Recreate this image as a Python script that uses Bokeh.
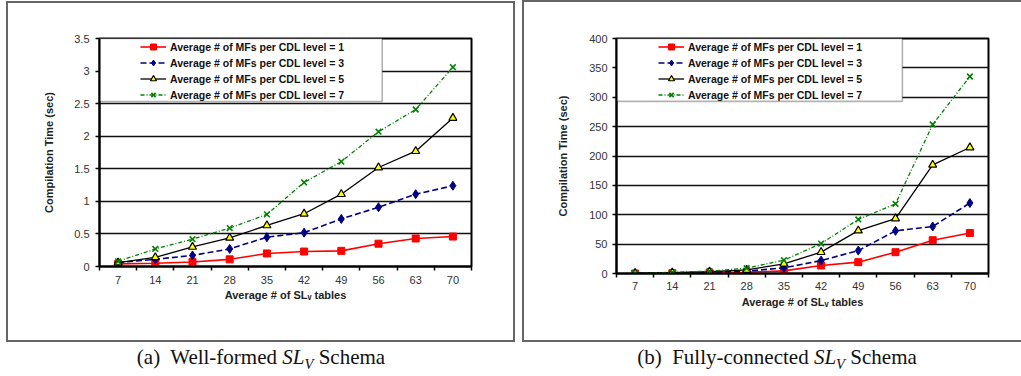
from bokeh.plotting import figure
from bokeh.models import Range1d, FixedTicker, NumeralTickFormatter, BoxAnnotation, Div
from bokeh.layouts import row, column
from bokeh.embed import file_html
from bokeh.resources import INLINE

# ---------------- data ----------------
sl_tables = [7, 14, 21, 28, 35, 42, 49, 56, 63, 70]
series_labels = [
    "Average # of MFs per CDL level = 1",
    "Average # of MFs per CDL level = 3",
    "Average # of MFs per CDL level = 5",
    "Average # of MFs per CDL level = 7",
]

# (a) Well-formed SL_V schema, compilation time (sec)
wf_mf1 = [0.04, 0.05, 0.07, 0.11, 0.20, 0.23, 0.24, 0.35, 0.43, 0.46]
wf_mf3 = [0.06, 0.11, 0.17, 0.27, 0.45, 0.52, 0.73, 0.91, 1.11, 1.24]
wf_mf5 = [0.06, 0.14, 0.30, 0.44, 0.63, 0.81, 1.11, 1.52, 1.77, 2.28]
wf_mf7 = [0.08, 0.27, 0.42, 0.59, 0.80, 1.29, 1.61, 2.07, 2.41, 3.06]

# (b) Fully-connected SL_V schema, compilation time (sec)
fc_mf1 = [0.0, 0.5, 1.0, 2.0, 4.5, 13.6, 19.3, 36.3, 56.7, 69.0]
fc_mf3 = [0.3, 1.0, 2.0, 4.0, 9.6, 22.0, 39.0, 72.6, 80.0, 120.0]
fc_mf5 = [0.5, 1.5, 3.0, 6.0, 16.5, 36.3, 73.0, 93.6, 185.0, 214.5]
fc_mf7 = [0.5, 2.0, 4.0, 9.0, 22.7, 51.0, 92.0, 118.6, 253.6, 335.3]

y_axis_title = "Compilation Time (sec)"
x_axis_title = "Average # of SL\u1d65 tables"
caption_a = '(a)&nbsp; Well-formed <i>SL<sub style="font-size:0.7em">V</sub></i> Schema'
caption_b = '(b)&nbsp; Fully-connected <i>SL<sub style="font-size:0.7em">V</sub></i> Schema'

FONT = "Liberation Sans"


def make_panel(series, y_max, y_step, y_format, width, height, margin, borders,
               legend_loc, legend_box, label_offsets):
    half = (sl_tables[1] - sl_tables[0]) / 2
    x0, x1 = sl_tables[0] - half, sl_tables[-1] + half
    p = figure(width=width, height=height, output_backend="svg",
               toolbar_location=None, margin=margin,
               x_range=Range1d(x0, x1), y_range=Range1d(0, y_max),
               min_border_left=borders[0], min_border_right=borders[1],
               min_border_top=borders[2], min_border_bottom=borders[3])
    p.background_fill_color = "white"
    p.border_fill_color = "white"
    p.outline_line_color = "black"
    p.outline_line_width = 2
    p.styles = {"outline": "2px solid #666666"}

    p.xgrid.visible = False
    p.ygrid.grid_line_color = "#111111"
    p.ygrid.grid_line_width = 1.6

    # legend frame (covers grid lines)
    box = BoxAnnotation(left=x0, right=legend_box[0], top=y_max,
                        bottom=legend_box[1], fill_color="white", fill_alpha=1,
                        line_color="black", line_width=1.6, level="underlay")
    p.add_layout(box)

    # x axis: category labels at centres, tick marks at boundaries
    bounds = [c - half for c in sl_tables] + [sl_tables[-1] + half]
    p.xaxis.ticker = FixedTicker(ticks=sl_tables, minor_ticks=bounds)
    p.xaxis.minor_tick_out = 4
    p.xaxis.minor_tick_in = 0
    p.xaxis.minor_tick_line_color = "black"
    p.xaxis.minor_tick_line_width = 1.5

    yt = []
    v = 0.0
    while v <= y_max + 1e-9:
        yt.append(round(v, 3))
        v += y_step
    p.yaxis.ticker = FixedTicker(ticks=yt, minor_ticks=[])
    p.yaxis.formatter = NumeralTickFormatter(format=y_format)
    p.yaxis.major_tick_out = 4
    p.yaxis.major_tick_in = 0
    p.yaxis.minor_tick_line_color = None

    for ax in (p.xaxis, p.yaxis):
        ax.axis_line_color = "black"
        ax.axis_line_width = 2
        ax.major_tick_line_width = 1.5
        ax.major_label_text_font = FONT
        ax.major_label_text_font_size = "11px"
        ax.major_label_text_color = "#333333"
        ax.axis_label_text_font = FONT
        ax.axis_label_text_font_size = "11px"
        ax.axis_label_text_font_style = "bold"
        ax.axis_label_text_color = "#222222"
    p.xaxis.major_tick_line_color = None
    p.yaxis.major_tick_line_color = "black"

    p.xaxis.axis_label = x_axis_title
    p.yaxis.axis_label = y_axis_title
    p.xaxis.major_label_standoff = label_offsets[0]
    p.xaxis.axis_label_standoff = label_offsets[1]
    p.yaxis.major_label_standoff = label_offsets[2]
    p.yaxis.axis_label_standoff = label_offsets[3]

    s1, s3, s5, s7 = series
    p.line(sl_tables, s1, line_color="#FF0000", line_width=1.6,
           legend_label=series_labels[0])
    p.scatter(sl_tables, s1, marker="square", size=7, fill_color="#FF0000",
              line_color="#FF0000", legend_label=series_labels[0])
    p.line(sl_tables, s3, line_color="#000080", line_width=1.6,
           line_dash="6 3", legend_label=series_labels[1])
    p.scatter(sl_tables, s3, marker="diamond", size=9, fill_color="#000080",
              line_color="#000080", legend_label=series_labels[1])
    p.line(sl_tables, s5, line_color="black", line_width=1.3,
           legend_label=series_labels[2])
    p.scatter(sl_tables, s5, marker="triangle", size=8, fill_color="#FFFF00",
              line_color="black", line_width=1.2, legend_label=series_labels[2])
    p.line(sl_tables, s7, line_color="#008000", line_width=1.3,
           line_dash="4 2 1 2", legend_label=series_labels[3])
    p.scatter(sl_tables, s7, marker="x", size=8, line_color="#008000",
              line_width=1.6, legend_label=series_labels[3])

    lg = p.legend[0]
    lg.location = legend_loc
    lg.border_line_alpha = 0
    lg.background_fill_alpha = 0
    lg.padding = 0
    lg.margin = 0
    lg.spacing = 1
    lg.glyph_width = 26
    lg.glyph_height = 15
    lg.label_height = 15
    lg.label_standoff = 4
    lg.label_text_font = FONT
    lg.label_text_font_style = "bold"
    lg.label_text_font_size = "10.5px"
    lg.label_text_color = "#111111"
    lg.label_text_baseline = "middle"
    return p


pa = make_panel((wf_mf1, wf_mf3, wf_mf5, wf_mf7), 3.5, 0.5, "0.[0]",
                505, 337, (3, 0, 0, 8), (91, 42, 35, 74), (41, 164),
                (56.7, 2.533), (3, 2, 6, 16))
pb = make_panel((fc_mf1, fc_mf3, fc_mf5, fc_mf7), 400, 50, "0",
                497, 338, (2, 0, 0, 11), (92, 33, 36, 67), (42, 171),
                (57.3, 293), (2, 3, 5, 17))

cap_style = {"font-family": "Liberation Serif", "font-size": "21px",
             "text-align": "center", "color": "#111111", "line-height": "24px"}
cap_a = Div(text=caption_a, width=504, height=24, margin=(5, 0, 0, 9),
            styles=cap_style)
cap_b = Div(text=caption_b, width=488, height=24, margin=(5, 0, 0, 20),
            styles=cap_style)

layout = row(column(pa, cap_a, spacing=0), column(pb, cap_b, spacing=0),
             spacing=0)

open("out.html", "w").write(file_html(layout, INLINE))
